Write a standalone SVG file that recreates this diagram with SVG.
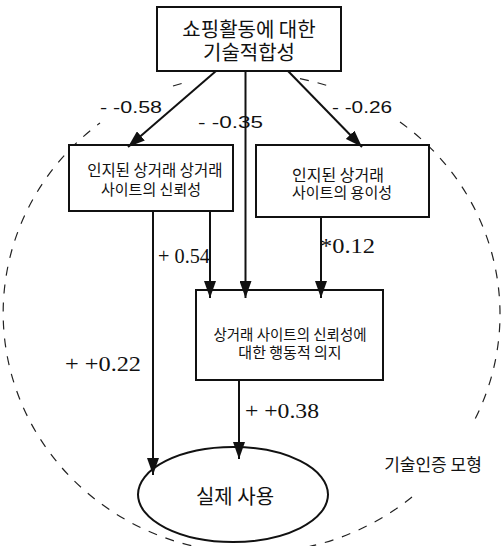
<svg xmlns="http://www.w3.org/2000/svg" width="502" height="546" viewBox="0 0 502 546">
<style>
.box{fill:#fff;stroke:#111;stroke-width:2}
.kr{font-family:"Noto Sans CJK KR","Noto Sans",sans-serif;fill:#111;text-anchor:middle}
.edge{stroke:#111;stroke-width:2;fill:none;marker-end:url(#ah)}
.sans{font-family:"Liberation Sans",Arial,sans-serif;font-size:16px;fill:#111}
.serif{font-family:"Liberation Serif","Times New Roman",serif;font-size:21px;fill:#111}
.dash{fill:none;stroke:#222;stroke-width:1.2;stroke-dasharray:9 9}
</style>
<defs>
<marker id="ah" markerUnits="userSpaceOnUse" markerWidth="18" markerHeight="12" refX="17" refY="6" orient="auto">
<path d="M0,0 L17,6 L0,12 z" fill="#111"/>
</marker>
</defs>
<rect width="502" height="546" fill="#fff"/>
<g id="model-boundary">
<path class="dash" d="M300,78.7 A249,240 0 0 1 333,87.4"/>
<path class="dash" d="M400,122 A249,240 0 0 1 473,423"/>
<path class="dash" d="M412,497 A249,240 0 1 1 100,123"/>
<path class="dash" d="M173,86 A249,240 0 0 1 190,81.3"/>
<text class="kr" x="433" y="471" font-size="17">기술인증 모형</text>
</g>
<g id="node-fit">
<rect class="box" x="157" y="7" width="184" height="64"/>
<text class="kr" x="249" y="37" font-size="20">쇼핑활동에 대한</text>
<text class="kr" x="249" y="60" font-size="20">기술적합성</text>
</g>
<g id="node-trust">
<rect class="box" x="69" y="145" width="164" height="66"/>
<text class="kr" x="155" y="176" font-size="15.5">인지된 상거래 상거래</text>
<text class="kr" x="151" y="195" font-size="15">사이트의 신뢰성</text>
</g>
<g id="node-ease">
<rect class="box" x="256" y="145" width="173" height="72"/>
<text class="kr" x="338" y="181" font-size="16">인지된 상거래</text>
<text class="kr" x="342" y="198" font-size="15">사이트의 용이성</text>
</g>
<g id="node-intent">
<rect class="box" x="196" y="290" width="187" height="90"/>
<text class="kr" x="290" y="340" font-size="14.5">상거래 사이트의 신뢰성에</text>
<text class="kr" x="290" y="358" font-size="15">대한 행동적 의지</text>
</g>
<g id="node-use">
<ellipse class="box" cx="233" cy="494.5" rx="95" ry="47.5"/>
<text class="kr" x="235" y="504" font-size="20">실제 사용</text>
</g>
<g id="connectors">
<line class="edge" x1="216" y1="71" x2="128" y2="147"/>
<line class="edge" x1="245.5" y1="71" x2="245.5" y2="298"/>
<line class="edge" x1="288" y1="71" x2="362" y2="147"/>
<line class="edge" x1="210" y1="211" x2="210" y2="298"/>
<line class="edge" x1="321" y1="217" x2="321" y2="298"/>
<line class="edge" x1="153" y1="211" x2="153" y2="475"/>
<line class="edge" x1="239" y1="380" x2="239" y2="459"/>
</g>
<g id="edge-labels">
<text class="sans" x="100" y="113" textLength="62" lengthAdjust="spacingAndGlyphs">- -0.58</text>
<text class="sans" x="198" y="128" textLength="65" lengthAdjust="spacingAndGlyphs">- -0.35</text>
<text class="sans" x="332" y="113" textLength="60" lengthAdjust="spacingAndGlyphs">- -0.26</text>
<text class="serif" x="158" y="263" textLength="52" lengthAdjust="spacingAndGlyphs">+ 0.54</text>
<text class="serif" x="320" y="253" font-size="19" textLength="55" lengthAdjust="spacingAndGlyphs">*0.12</text>
<text class="serif" x="65" y="371" textLength="76" lengthAdjust="spacingAndGlyphs">+ +0.22</text>
<text class="serif" x="245" y="418" textLength="74" lengthAdjust="spacingAndGlyphs">+ +0.38</text>
</g>
</svg>
